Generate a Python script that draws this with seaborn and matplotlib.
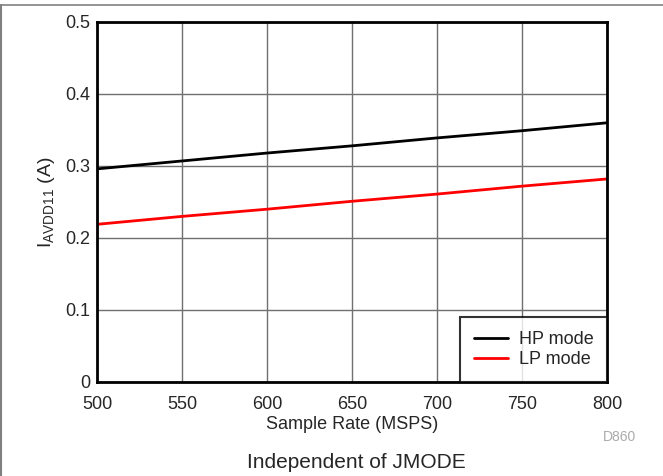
import matplotlib
matplotlib.use('Agg')
import matplotlib.pyplot as plt
from matplotlib.lines import Line2D
import seaborn as sns
import pandas as pd

# Data
sample_rate = [500, 550, 600, 650, 700, 750, 800]
hp_current = [0.296, 0.307, 0.318, 0.328, 0.339, 0.349, 0.360]
lp_current = [0.219, 0.230, 0.240, 0.251, 0.261, 0.272, 0.282]
modes = ['HP mode', 'LP mode']
mode_colors = ['black', 'red']
x_ticks = [500, 550, 600, 650, 700, 750, 800]
y_ticks = [0, 0.1, 0.2, 0.3, 0.4, 0.5]

df = pd.DataFrame({
    'rate': sample_rate * 2,
    'current': hp_current + lp_current,
    'mode': [modes[0]] * len(sample_rate) + [modes[1]] * len(sample_rate),
})

sns.set_style('white')
plt.rcParams['font.family'] = ['Liberation Sans', 'DejaVu Sans']
plt.rcParams['mathtext.fontset'] = 'custom'
plt.rcParams['mathtext.rm'] = 'Liberation Sans'

fig = plt.figure(figsize=(6.63, 4.76), dpi=100)
ax = fig.add_axes([97 / 663, 94 / 476, 510 / 663, 360 / 476])

sns.lineplot(data=df, x='rate', y='current', hue='mode', palette=mode_colors,
             linewidth=2, ax=ax, legend=False)

ax.set_xlim(500, 800)
ax.set_ylim(0, 0.5)
ax.set_xticks(x_ticks)
ax.set_yticks(y_ticks)
ax.set_yticklabels(['0', '0.1', '0.2', '0.3', '0.4', '0.5'])
ax.tick_params(labelsize=13, length=0)
ax.tick_params(axis='x', pad=10)
ax.tick_params(axis='y', pad=5)
ax.grid(True, color='#707070', linewidth=1)
for s in ax.spines.values():
    s.set_color('black')
    s.set_linewidth(2)

ax.set_xlabel('Sample Rate (MSPS)', fontsize=13, labelpad=2)
ax.set_ylabel(r'I$_{\mathrm{AVDD11}}$ (A)', fontsize=14, labelpad=6)

handles = [Line2D([], [], color=c, linewidth=2) for c in mode_colors]
leg = ax.legend(handles, modes, loc='lower right', fontsize=13, frameon=True,
                fancybox=False, borderaxespad=0, handlelength=1.9,
                handletextpad=0.6, labelspacing=0.2, borderpad=0.75)
leg.get_frame().set_edgecolor('black')
leg.get_frame().set_linewidth(1.5)

fig.text(636 / 663, 1 - 437 / 476, 'D860', color='#aaaaaa', fontsize=10,
         ha='right', va='center')
fig.text(356 / 663, 1 - 462 / 476, 'Independent of JMODE', fontsize=15,
         ha='center', va='center')

# outer frame lines (top and left)
fig.add_artist(Line2D([0, 1], [1 - 4.5 / 476] * 2, color='#808080', linewidth=1.2))
fig.add_artist(Line2D([0.5 / 663] * 2, [0, 1 - 4.5 / 476], color='#808080', linewidth=1.5))

fig.savefig('out.png', dpi=100)
